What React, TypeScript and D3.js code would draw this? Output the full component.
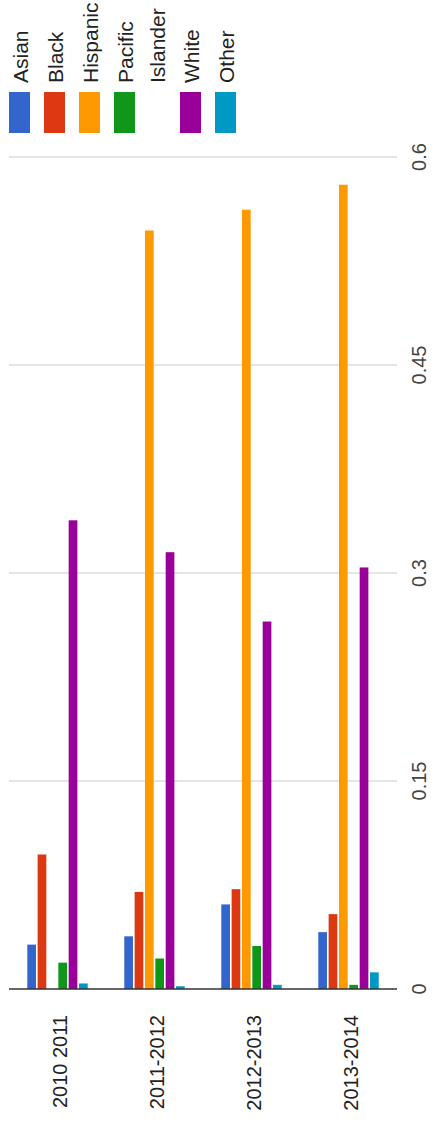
import React from "react";
import * as d3 from "d3";

const categories = ["2010 2011", "2011-2012", "2012-2013", "2013-2014"];
const seriesNames = ["Asian", "Black", "Hispanic", "Pacific Islander", "White", "Other"];
const seriesColors = ["#3366cc", "#dc3912", "#ff9900", "#109618", "#990099", "#0099c6"];
const asian = [0.032, 0.038, 0.061, 0.041];
const black = [0.097, 0.070, 0.072, 0.054];
const hispanic = [0, 0.547, 0.562, 0.580];
const pacific = [0.019, 0.022, 0.031, 0.003];
const white = [0.338, 0.315, 0.265, 0.304];
const other = [0.004, 0.002, 0.003, 0.012];
const yTicks = [0, 0.15, 0.3, 0.45, 0.6];
const tickLabels = ["0", "0.15", "0.3", "0.45", "0.6"];

const seriesValues = [asian, black, hispanic, pacific, white, other];

const W = 435;
const H = 1125;
const FONT = "'Liberation Sans', Arial, sans-serif";

export default function App() {
  const x0 = d3
    .scaleBand<string>()
    .domain(categories)
    .range([9, 397])
    .paddingInner(0.36)
    .paddingOuter(0.18);
  const x1 = d3
    .scaleBand<string>()
    .domain(seriesNames)
    .range([0, x0.bandwidth()])
    .paddingInner(0.16)
    .paddingOuter(0.08);
  const y = d3.scaleLinear().domain([0, 0.6]).range([989, 157]);

  const legendRows = [
    { lines: ["Asian"], boxX: 9 },
    { lines: ["Black"], boxX: 44 },
    { lines: ["Hispanic"], boxX: 79 },
    { lines: ["Pacific", "Islander"], boxX: 114 },
    { lines: ["White"], boxX: 180 },
    { lines: ["Other"], boxX: 215 },
  ];

  return (
    <svg
      width={W}
      height={H}
      style={{ position: "absolute", left: 0, top: 0, background: "#fff" }}
    >
      {yTicks.slice(1).map((t) => (
        <line key={t} x1={9} x2={397} y1={y(t)} y2={y(t)} stroke="#cccccc" strokeWidth={1} />
      ))}
      {categories.map((c, ci) => (
        <g key={c} transform={`translate(${x0(c)},0)`}>
          {seriesNames.map((s, si) => {
            const v = seriesValues[si][ci];
            if (!v) return null;
            return (
              <rect
                key={s}
                x={x1(s)}
                y={y(v)}
                width={x1.bandwidth()}
                height={y(0) - y(v)}
                fill={seriesColors[si]}
              />
            );
          })}
        </g>
      ))}
      <line x1={9} x2={397} y1={y(0)} y2={y(0)} stroke="#333" strokeWidth={1.5} />
      {yTicks.map((t, i) => (
        <text
          key={t}
          transform={`translate(426,${y(t)}) rotate(-90)`}
          textAnchor="middle"
          fontFamily={FONT}
          fontSize={20}
          fill="#444"
        >
          {tickLabels[i]}
        </text>
      ))}
      {categories.map((c) => (
        <text
          key={c}
          transform={`translate(${(x0(c) as number) + x0.bandwidth() / 2 + 9},1015) rotate(-90)`}
          textAnchor="end"
          fontFamily={FONT}
          fontSize={20}
          fill="#222"
        >
          {c}
        </text>
      ))}
      {legendRows.map((r, i) => (
        <g key={i}>
          <rect x={r.boxX} y={92} width={21} height={41} fill={seriesColors[i]} />
          {r.lines.map((ln, li) => (
            <text
              key={ln}
              transform={`translate(${r.boxX + 19 + li * 32},83) rotate(-90)`}
              textAnchor="start"
              fontFamily={FONT}
              fontSize={21}
              fill="#222"
            >
              {ln}
            </text>
          ))}
        </g>
      ))}
    </svg>
  );
}
